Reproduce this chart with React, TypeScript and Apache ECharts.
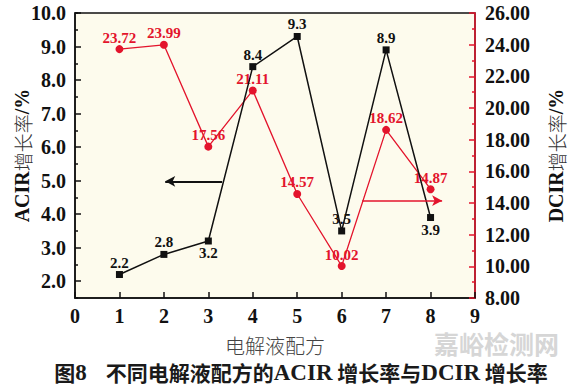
import React, { useEffect, useRef } from "react";
import * as echarts from "echarts";

const formulations = [1, 2, 3, 4, 5, 6, 7, 8];
const acirGrowth = [2.2, 2.8, 3.2, 8.4, 9.3, 3.5, 8.9, 3.9];
const dcirGrowth = [23.72, 23.99, 17.56, 21.11, 14.57, 10.02, 18.62, 14.87];
const acirTicks = [2, 3, 4, 5, 6, 7, 8, 9, 10];
const acirLabelsBelow = [3, 8];
const acirArrow = { y: 4.98, from: 3.31, to: 2.03 };
const dcirArrow = { y: 14.15, from: 6.46, to: 8.26 };

const SERIF = "'Liberation Serif', 'Times New Roman', serif";
const CJK = "'Noto Sans CJK SC', sans-serif";
const RED = "#e3142c";
const INK = "#111111";

export default function App() {
  const ref = useRef<HTMLDivElement>(null);

  useEffect(() => {
    if (!ref.current) return;
    const chart = echarts.init(ref.current, undefined, { renderer: "svg" });

    const nameRich = {
      a: { fontFamily: SERIF, fontWeight: "bold", fontSize: 20, color: INK },
      b: { fontFamily: CJK, fontWeight: 300, fontSize: 19, color: "#333" },
    };

    const option: any = {
      animation: false,
      backgroundColor: "#ffffff",
      grid: {
        left: 75,
        right: 102,
        top: 13,
        bottom: 89,
        outerBoundsMode: "none",
        containLabel: false,
        show: true,
        backgroundColor: "#fdfbed",
        borderColor: INK,
        borderWidth: 1.5,
      },
      xAxis: {
        type: "value",
        min: 0,
        max: 9,
        interval: 1,
        name: "电解液配方",
        nameLocation: "middle",
        nameGap: 37,
        nameMoveOverlap: false,
        nameTextStyle: { fontFamily: CJK, fontSize: 20, color: "#444", fontWeight: 300 },
        axisLine: { lineStyle: { color: INK, width: 1.5 } },
        axisTick: { inside: true, length: 6, lineStyle: { color: INK, width: 1.5 } },
        axisLabel: { fontFamily: SERIF, fontWeight: "bold", fontSize: 20, color: INK, margin: 8 },
        splitLine: { show: false },
      },
      yAxis: [
        {
          type: "value",
          position: "left",
          min: 1.5,
          max: 10,
          name: "{a|ACIR}{b|增长率}{a|/%}",
          nameLocation: "middle",
          nameRotate: 90,
          nameGap: 43,
          nameMoveOverlap: false,
          nameTextStyle: { rich: nameRich },
          axisLine: { show: true, lineStyle: { color: INK, width: 1.5 } },
          axisTick: { show: true, inside: true, length: 6, customValues: acirTicks, lineStyle: { color: INK, width: 1.5 } },
          axisLabel: {
            customValues: acirTicks,
            formatter: (v: number) => v.toFixed(1),
            fontFamily: SERIF,
            fontWeight: "bold",
            fontSize: 20,
            color: INK,
            margin: 9,
          },
          splitLine: { show: false },
        },
        {
          type: "value",
          position: "right",
          min: 8,
          max: 26,
          interval: 2,
          name: "{a|DCIR}{b|增长率}{a|/%}",
          nameLocation: "middle",
          nameRotate: 90,
          nameGap: 71,
          nameMoveOverlap: false,
          nameTextStyle: { rich: nameRich },
          axisLine: { show: true, lineStyle: { color: RED, width: 1.5 } },
          axisTick: { show: true, inside: true, length: 6, lineStyle: { color: RED, width: 1.5 } },
          minorTick: { show: true, splitNumber: 2, length: 3, lineStyle: { color: RED, width: 1.5 } },
          axisLabel: {
            formatter: (v: number) => v.toFixed(2),
            fontFamily: SERIF,
            fontWeight: "bold",
            fontSize: 20,
            color: INK,
            margin: 10,
          },
          splitLine: { show: false },
        },
        {
          type: "value",
          position: "left",
          min: 1.5,
          max: 10,
          interval: 1,
          axisLine: { show: false },
          axisTick: { show: true, inside: true, length: 3, lineStyle: { color: INK, width: 1.5 } },
          axisLabel: { show: false },
          splitLine: { show: false },
        },
      ],
      series: [
        {
          type: "line",
          name: "ACIR",
          yAxisIndex: 0,
          data: formulations.map((x, i) => ({
            value: [x, acirGrowth[i]],
            label: { position: acirLabelsBelow.includes(x) ? "bottom" : "top" },
          })),
          symbol: "rect",
          symbolSize: 7,
          itemStyle: { color: INK },
          lineStyle: { color: INK, width: 1.5 },
          label: {
            show: true,
            distance: 1,
            formatter: (p: any) => p.value[1].toFixed(1),
            fontFamily: SERIF,
            fontWeight: "bold",
            fontSize: 15,
            color: INK,
          },
          markLine: {
            silent: true,
            symbol: ["none", "arrow"],
            symbolSize: [8, 10],
            label: { show: false },
            lineStyle: { color: INK, width: 2, type: "solid" },
            data: [[{ coord: [acirArrow.from, acirArrow.y] }, { coord: [acirArrow.to, acirArrow.y] }]],
          },
          z: 3,
        },
        {
          type: "line",
          name: "DCIR",
          yAxisIndex: 1,
          data: formulations.map((x, i) => [x, dcirGrowth[i]]),
          symbol: "circle",
          symbolSize: 8,
          itemStyle: { color: RED },
          lineStyle: { color: RED, width: 1.3 },
          label: {
            show: true,
            position: "top",
            distance: 0,
            formatter: (p: any) => p.value[1].toFixed(2),
            fontFamily: SERIF,
            fontWeight: "bold",
            fontSize: 15,
            color: RED,
          },
          markLine: {
            silent: true,
            symbol: ["none", "arrow"],
            symbolSize: [8, 10],
            label: { show: false },
            lineStyle: { color: RED, width: 1.5, type: "solid" },
            data: [[{ coord: [dcirArrow.from, dcirArrow.y] }, { coord: [dcirArrow.to, dcirArrow.y] }]],
          },
          z: 2,
        },
      ],
      graphic: [
        {
          type: "text",
          left: 434,
          top: 330,
          silent: true,
          style: {
            text: "嘉峪检测网",
            fontFamily: CJK,
            fontWeight: "bold",
            fontSize: 25,
            lineHeight: 25,
            fill: "#d6d6d6",
          },
          z: -1,
        },
        {
          type: "text",
          x: 301,
          y: 372,
          silent: true,
          style: {
            text: "{c|图}{d|8}{c|    不同电解液配方的}{d|ACIR}{c| 增长率与}{d|DCIR}{c| 增长率}",
            align: "center",
            verticalAlign: "middle",
            rich: {
              c: { fontFamily: CJK, fontWeight: "bold", fontSize: 21, lineHeight: 21, fill: "#1a1a1a" },
              d: { fontFamily: SERIF, fontWeight: "bold", fontSize: 23, lineHeight: 21, fill: "#1a1a1a" },
            },
          },
        },
      ],
    };

    chart.setOption(option);
    return () => chart.dispose();
  }, []);

  return (
    <div
      ref={ref}
      style={{ position: "fixed", left: 0, top: 0, width: 577, height: 387 }}
    />
  );
}
